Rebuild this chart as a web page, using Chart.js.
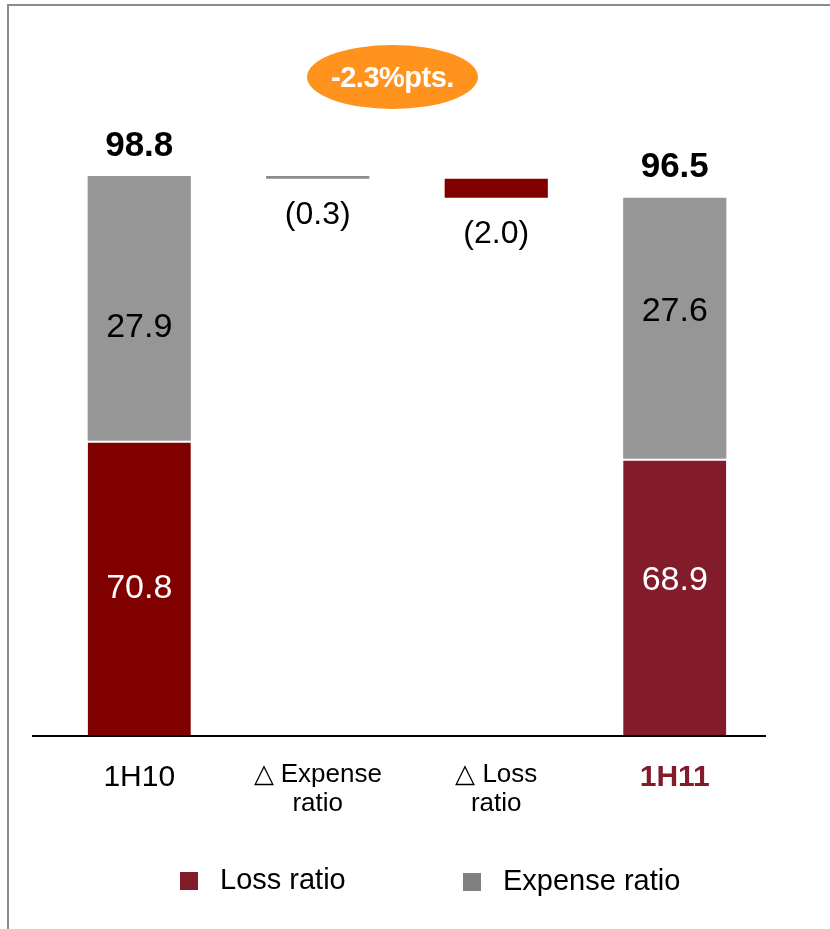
<!DOCTYPE html>
<html>
<head>
<meta charset="utf-8">
<script src="https://cdn.jsdelivr.net/npm/chart.js@4.4.0/dist/chart.umd.min.js"></script>
<style>
  body { margin: 0; background: #fff; overflow: hidden; }
  #wrap { position: relative; width: 830px; height: 929px; overflow: hidden; font-family: "Liberation Sans", Arial, sans-serif; }
  #frame { position: absolute; left: 7px; top: 4px; width: 900px; height: 1000px; border-left: 2px solid #8c8c8c; border-top: 2px solid #8c8c8c; }
  #chartBox { position: absolute; left: 0; top: 0; width: 830px; height: 929px; }
  #badge { position: absolute; left: 307px; top: 45px; width: 171px; height: 64px; border-radius: 50%; background: #ff931e;
           color: #fff; font-weight: bold; font-size: 29px; line-height: 64px; text-align: center; letter-spacing: -0.5px; }
  .leg { position: absolute; font-size: 29px; color: #000; }
  .sw { position: absolute; width: 18px; height: 18px; }
</style>
</head>
<body>
<div id="wrap">
  <div id="frame"></div>
  <div id="chartBox"><canvas id="myChart"></canvas></div>
  <div id="badge">-2.3%pts.</div>
  <div class="sw" style="left:180px; top:872px; background:#821c2a;"></div>
  <div class="leg" style="left:220px; top:863px;">Loss ratio</div>
  <div class="sw" style="left:463px; top:873px; background:#808080;"></div>
  <div class="leg" style="left:503px; top:864px;">Expense ratio</div>
</div>
<script>
// data
const categories = ['1H10', ['\u25B3 Expense', 'ratio'], ['\u25B3 Loss', 'ratio'], '1H11'];
const lossRatio = [70.8, null, null, 68.9];
const expenseRatio = [27.9, null, null, 27.6];
const combinedRatio = [98.8, null, null, 96.5];
const changes = [null, -0.3, -2.0, null];

const axisMin = 39.6;   // broken axis, bars start here
const axisMax = 110;

// build floating bars
const lossBars = lossRatio.map(v => v === null ? null : [axisMin, v]);
const expenseBars = lossRatio.map((v, i) => v === null ? null : [v, combinedRatio[i]]);
let running = combinedRatio[0];
const changeBars = changes.map(c => {
  if (c === null) return null;
  const bar = [running + c, running];
  running += c;
  return bar;
});

const fontFamily = '"Liberation Sans", Arial, sans-serif';

// value labels + axis line
const labelPlugin = {
  id: 'labels',
  afterDatasetsDraw(chart, args, opts) {
    const ctx = chart.ctx;
    ctx.save();
    ctx.textAlign = 'center';
    ctx.textBaseline = 'middle';

    chart.getDatasetMeta(0).data.forEach((bar, i) => {
      if (lossRatio[i] === null) return;
      ctx.font = '34px ' + fontFamily;
      ctx.fillStyle = '#fff';
      ctx.fillText(lossRatio[i].toFixed(1), bar.x, (bar.y + bar.base) / 2 + opts.lossNudge[i]);
    });

    chart.getDatasetMeta(1).data.forEach((bar, i) => {
      if (expenseRatio[i] === null) return;
      ctx.font = '34px ' + fontFamily;
      ctx.fillStyle = '#000';
      ctx.fillText(expenseRatio[i].toFixed(1), bar.x, (bar.y + bar.base) / 2 + opts.expenseNudge[i]);
      ctx.font = 'bold 35px ' + fontFamily;
      ctx.fillText(combinedRatio[i].toFixed(1), bar.x, bar.y - 30);
    });

    chart.getDatasetMeta(2).data.forEach((bar, i) => {
      if (changes[i] === null) return;
      ctx.font = '32px ' + fontFamily;
      ctx.fillStyle = '#000';
      const bottom = Math.max(bar.y, bar.base);
      ctx.fillText('(' + Math.abs(changes[i]).toFixed(1) + ')', bar.x, bottom + 36);
    });

    // baseline
    const y = chart.chartArea.bottom;
    ctx.strokeStyle = '#000';
    ctx.lineWidth = 2;
    ctx.beginPath();
    ctx.moveTo(32, y);
    ctx.lineTo(766, y);
    ctx.stroke();
    ctx.restore();
  }
};

const ctx = document.getElementById('myChart').getContext('2d');
new Chart(ctx, {
  type: 'bar',
  data: {
    labels: categories,
    datasets: [{
      label: 'Loss ratio',
      data: lossBars,
      backgroundColor: ['#800000', '#800000', '#800000', '#821c2a'],
      borderColor: '#fff',
      borderWidth: { top: 2, left: 0, right: 0, bottom: 0 },
      borderSkipped: 'start'
    }, {
      label: 'Expense ratio',
      data: expenseBars,
      backgroundColor: '#969696',
      borderWidth: 0
    }, {
      label: 'Change',
      data: changeBars,
      backgroundColor: ['#8c8c8c', '#8c8c8c', '#800000', '#800000'],
      borderWidth: 0
    }]
  },
  options: {
    responsive: true,
    maintainAspectRatio: false,
    animation: false,
    categoryPercentage: 0.578,
    barPercentage: 1,
    layout: { padding: { left: 50, right: 66, top: 70, bottom: 0 } },
    plugins: {
      legend: { display: false },
      tooltip: { enabled: false },
      labels: { expenseNudge: [19, 0, 0, -17], lossNudge: [0, 0, 0, -17] }
    },
    scales: {
      x: {
        stacked: true,
        grid: { display: false, drawTicks: false },
        border: { display: false },
        afterFit(scale) { scale.height = 193; },
        ticks: {
          padding: 24,
          maxRotation: 0,
          autoSkip: false,
          color: (c) => c.index === 3 ? '#821c2a' : '#000',
          font: (c) => {
            const single = c.index === 0 || c.index === 3;
            return {
              family: fontFamily,
              size: single ? 30 : 26,
              weight: c.index === 3 ? 'bold' : 'normal',
              lineHeight: single ? 1.2 : 1.12
            };
          }
        }
      },
      y: {
        display: false,
        stacked: false,
        min: axisMin,
        max: axisMax
      }
    }
  },
  plugins: [labelPlugin]
});
</script>
</body>
</html>
